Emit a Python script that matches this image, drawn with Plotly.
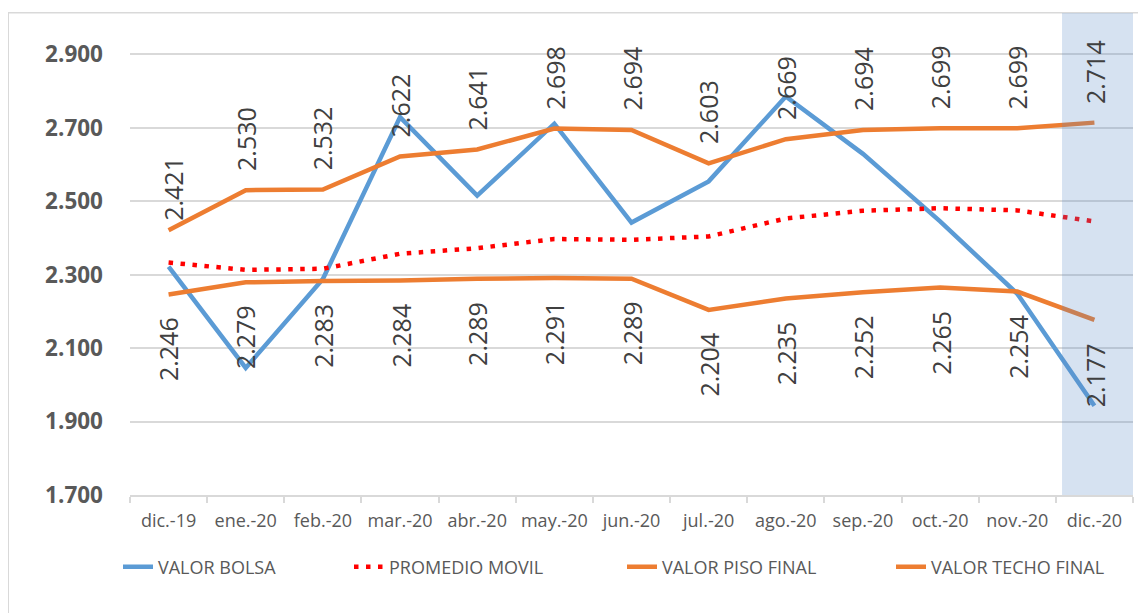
import plotly.graph_objects as go

categories = ["dic.-19", "ene.-20", "feb.-20", "mar.-20", "abr.-20", "may.-20", "jun.-20",
              "jul.-20", "ago.-20", "sep.-20", "oct.-20", "nov.-20", "dic.-20"]
valor_bolsa = [2.322, 2.046, 2.288, 2.729, 2.515, 2.711, 2.442, 2.554, 2.785, 2.629, 2.445, 2.248, 1.943]
promedio_movil = [2.333, 2.313, 2.316, 2.357, 2.372, 2.397, 2.395, 2.404, 2.453, 2.474, 2.481, 2.475, 2.445]
valor_piso = [2.246, 2.279, 2.283, 2.284, 2.289, 2.291, 2.289, 2.204, 2.235, 2.252, 2.265, 2.254, 2.177]
valor_techo = [2.421, 2.530, 2.532, 2.622, 2.641, 2.698, 2.694, 2.603, 2.669, 2.694, 2.699, 2.699, 2.714]
y_ticks = [1.7, 1.9, 2.1, 2.3, 2.5, 2.7, 2.9]

BLUE = "#5B9BD5"
ORANGE = "#ED7D31"
RED = "#FF0000"
FONT = "Open Sans"

fig = go.Figure()
fig.add_trace(go.Scatter(x=categories, y=valor_bolsa, name="VALOR BOLSA", mode="lines",
                         line=dict(color=BLUE, width=4.5), legend="legend"))
fig.add_trace(go.Scatter(x=categories, y=promedio_movil, name="PROMEDIO MOVIL", mode="lines",
                         line=dict(color=RED, width=4.5, dash="4.5px,7.5px"), legend="legend2"))
fig.add_trace(go.Scatter(x=categories, y=valor_piso, name="VALOR PISO FINAL", mode="lines",
                         line=dict(color=ORANGE, width=4.5), legend="legend3"))
fig.add_trace(go.Scatter(x=categories, y=valor_techo, name="VALOR TECHO FINAL", mode="lines",
                         line=dict(color=ORANGE, width=4.5), legend="legend4"))

annotations = []
label_font = dict(family=FONT, size=25, color="#404040")
for i, (c, v) in enumerate(zip(categories, valor_techo)):
    xs, ys = (5, 7) if i == 0 else (0, 17)
    annotations.append(dict(x=c, y=v, xref="x", yref="y", text=f"{v:.3f}", showarrow=False,
                            textangle=-90, yanchor="bottom", xanchor="center",
                            yshift=ys, xshift=xs, font=label_font))
for c, v in zip(categories, valor_piso):
    annotations.append(dict(x=c, y=v, xref="x", yref="y", text=f"{v:.3f}", showarrow=False,
                            textangle=-90, yanchor="top", xanchor="center",
                            yshift=-21, font=label_font))

shapes = [
    # highlighted last month
    dict(type="rect", xref="x", yref="paper", x0=11.58, x1=12.5, y0=0, y1=1,
         fillcolor="rgba(91,141,201,0.25)", line=dict(width=0), layer="above"),
    # chart border
    dict(type="rect", xref="paper", yref="paper", x0=-0.1214, x1=1.05, y0=-0.3, y1=1.0005,
         fillcolor="rgba(0,0,0,0)", line=dict(color="#D9D9D9", width=1.5), layer="below"),
]

W, H = 1138, 605
leg_common = dict(orientation="h", xref="container", yref="container", y=1 - 559 / H,
                  xanchor="left", yanchor="middle", font=dict(size=18, color="#595959"),
                  bgcolor="rgba(0,0,0,0)")
text_starts = [159, 390, 663, 932]
legs = [dict(leg_common, x=(t - 8 - 41) / W) for t in text_starts]

fig.update_layout(
    width=W, height=H,
    margin=dict(l=122, r=13, t=5, b=118),
    paper_bgcolor="white", plot_bgcolor="white",
    font=dict(family=FONT, color="#595959"),
    showlegend=True,
    legend=legs[0], legend2=legs[1], legend3=legs[2], legend4=legs[3],
    annotations=annotations,
    shapes=shapes,
)
fig.update_xaxes(type="category", range=[-0.5, 12.5], showgrid=False, showline=True,
                 linecolor="#D9D9D9", linewidth=1.5, ticks="outside", tickson="boundaries",
                 ticklen=6, tickcolor="#D9D9D9", tickwidth=1.5, ticklabelstandoff=9,
                 tickfont=dict(size=18, color="#595959"), fixedrange=True)
fig.update_yaxes(range=[1.7, 3.0125], tickvals=y_ticks, tickformat=".3f", showgrid=True,
                 gridcolor="#D9D9D9", gridwidth=1.5, zeroline=False, showline=False,
                 ticks="", ticklabelstandoff=26,
                 tickfont=dict(size=22.5, color="#595959", family=FONT, weight="bold"))

fig.write_html("out.html")
